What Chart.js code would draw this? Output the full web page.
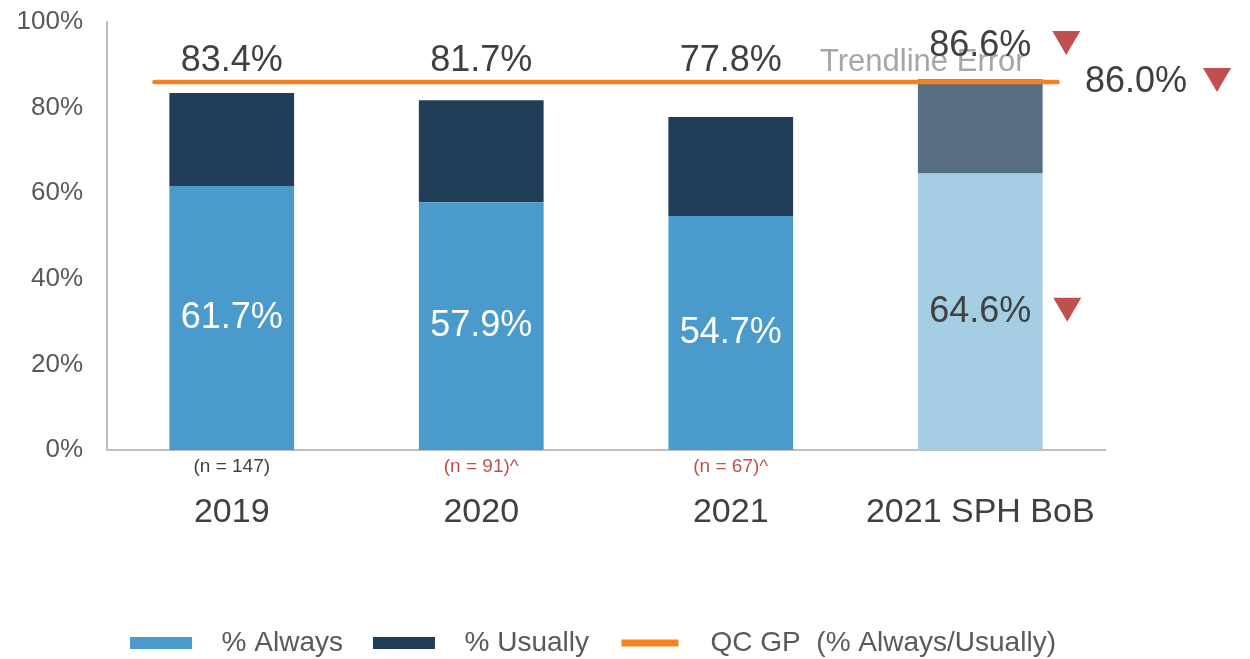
<!DOCTYPE html>
<html>
<head>
<meta charset="utf-8">
<script src="https://cdn.jsdelivr.net/npm/chart.js@4/dist/chart.umd.min.js"></script>
<style>
html,body{margin:0;padding:0;background:#fff;}
#wrap{width:1250px;height:659px;}
</style>
</head>
<body>
<div id="wrap"><canvas id="c" width="1250" height="659"></canvas></div>
<script>
const categories = ['2019', '2020', '2021', '2021 SPH BoB'];
const sampleSizes = ['(n = 147)', '(n = 91)^', '(n = 67)^', ''];
const pctAlways = [61.7, 57.9, 54.7, 64.6];
const pctUsually = [21.7, 23.8, 23.1, 22.0];
const qcGP = 86.0;
const qcGPSpan = [-0.31, 3.31];
const flaggedAlways = [false, false, false, true];
const flaggedTotal = [false, false, false, true];
const flaggedQcGP = true;
const yTicks = [0, 20, 40, 60, 80, 100];

const FONT = '"Liberation Sans", Arial, sans-serif';
const TEXT = '#404040';
const AXIS_TEXT = '#595959';
const RED = '#C0504D';
const benchIdx = categories.length - 1;

function tri(ctx, cx, cy) {
  ctx.save();
  ctx.fillStyle = RED;
  ctx.beginPath();
  ctx.moveTo(cx - 14, cy - 12);
  ctx.lineTo(cx + 14, cy - 12);
  ctx.lineTo(cx, cy + 12);
  ctx.closePath();
  ctx.fill();
  ctx.restore();
}

const annotations = {
  id: 'annotations',
  afterDatasetsDraw(chart) {
    const ctx = chart.ctx;
    const x = chart.scales.x, y = chart.scales.y;
    ctx.save();
    ctx.textBaseline = 'middle';
    // sample sizes
    ctx.font = '19px ' + FONT;
    ctx.textAlign = 'center';
    sampleSizes.forEach((s, i) => {
      if (!s) return;
      ctx.fillStyle = s.includes('^') ? RED : TEXT;
      ctx.fillText(s, x.getPixelForValue(i), 467);
    });
    // inner labels (% always)
    ctx.font = '36px ' + FONT;
    pctAlways.forEach((v, i) => {
      const cx = x.getPixelForValue(i);
      const cy = y.getPixelForValue(v / 2);
      ctx.fillStyle = i === benchIdx ? TEXT : '#FFFFFF';
      ctx.fillText(v.toFixed(1) + '%', cx, cy);
      if (flaggedAlways[i]) tri(ctx, cx + 87, cy - 2);
    });
    // Trendline Error text
    ctx.font = '31px ' + FONT;
    ctx.fillStyle = '#A6A6A6';
    ctx.textAlign = 'left';
    ctx.fillText('Trendline Error', 820, 62);
    // totals
    ctx.font = '36px ' + FONT;
    ctx.textAlign = 'center';
    ctx.fillStyle = TEXT;
    pctAlways.forEach((v, i) => {
      const total = (v + pctUsually[i]).toFixed(1) + '%';
      const cx = x.getPixelForValue(i);
      const cy = i === benchIdx ? 46 : 61;
      ctx.fillText(total, cx, cy);
      if (flaggedTotal[i]) tri(ctx, cx + 86, cy - 3);
    });
    // QC GP label
    ctx.textAlign = 'left';
    const gy = y.getPixelForValue(qcGP);
    ctx.fillText(qcGP.toFixed(1) + '%', chart.chartArea.right - 20, gy);
    if (flaggedQcGP) tri(ctx, chart.chartArea.right + 112, gy - 2);
    ctx.restore();
  }
};

new Chart(document.getElementById('c'), {
  type: 'bar',
  data: {
    labels: categories,
    datasets: [
      {
        label: '  % Always',
        data: pctAlways,
        backgroundColor: c => c.dataIndex === benchIdx ? '#A5CDE3' : '#4A9BCB',
        stack: 's', order: 1, grouped: false,
        categoryPercentage: 1, barPercentage: 0.5
      },
      {
        label: '  % Usually',
        data: pctUsually,
        backgroundColor: c => c.dataIndex === benchIdx ? '#566D82' : '#223D58',
        stack: 's', order: 1, grouped: false,
        categoryPercentage: 1, barPercentage: 0.5
      },
      {
        type: 'line',
        label: '  QC GP  (% Always/Usually)',
        data: qcGPSpan.map(v => ({x: v, y: qcGP})),
        xAxisID: 'x2',
        borderColor: '#F5821F',
        backgroundColor: '#F5821F',
        borderWidth: 4.5,
        borderCapStyle: 'round',
        pointRadius: 0,
        order: 0
      }
    ]
  },
  options: {
    responsive: false,
    animation: false,
    layout: { padding: { left: 0, right: 64, top: 22, bottom: -8 } },
    plugins: {
      tooltip: { enabled: false },
      legend: {
        position: 'bottom',
        labels: {
          font: { family: FONT, size: 28 },
          color: AXIS_TEXT,
          boxWidth: 62, boxHeight: 12,
          padding: 30,
          sort: (a, b) => a.datasetIndex - b.datasetIndex,
          generateLabels: chart => {
            const items = Chart.defaults.plugins.legend.labels.generateLabels(chart);
            items.forEach(it => {
              if (it.datasetIndex === 2) { it.strokeStyle = '#FFFFFF'; it.lineWidth = 5; it.lineCap = 'butt'; }
            });
            return items;
          }
        }
      }
    },
    scales: {
      x: {
        type: 'category',
        stacked: true,
        offset: true,
        grid: { display: false },
        border: { display: true, color: '#BFBFBF', width: 2 },
        ticks: { font: { family: FONT, size: 34 }, color: TEXT, padding: 34, maxRotation: 0 },
        afterFit: s => { s.height = 149; }
      },
      x2: { type: 'linear', display: false, offset: false, min: -0.5, max: 3.5 },
      y: {
        stacked: true,
        min: 0, max: 100,
        grid: { display: false },
        border: { display: true, color: '#BFBFBF', width: 2 },
        afterBuildTicks: s => { s.ticks = yTicks.map(v => ({value: v})); },
        ticks: { font: { family: FONT, size: 26 }, color: AXIS_TEXT, padding: 16, callback: v => v + '%' },
        afterFit: s => { s.width = 107; s.paddingTop = 0; s.paddingBottom = 0; }
      },
      yPad: {
        type: 'linear', position: 'right', display: true,
        grid: { display: false }, border: { display: false },
        ticks: { display: false },
        afterFit: s => { s.width = 81; s.paddingTop = 0; s.paddingBottom = 0; }
      }
    }
  },
  plugins: [annotations]
});
</script>
</body>
</html>
